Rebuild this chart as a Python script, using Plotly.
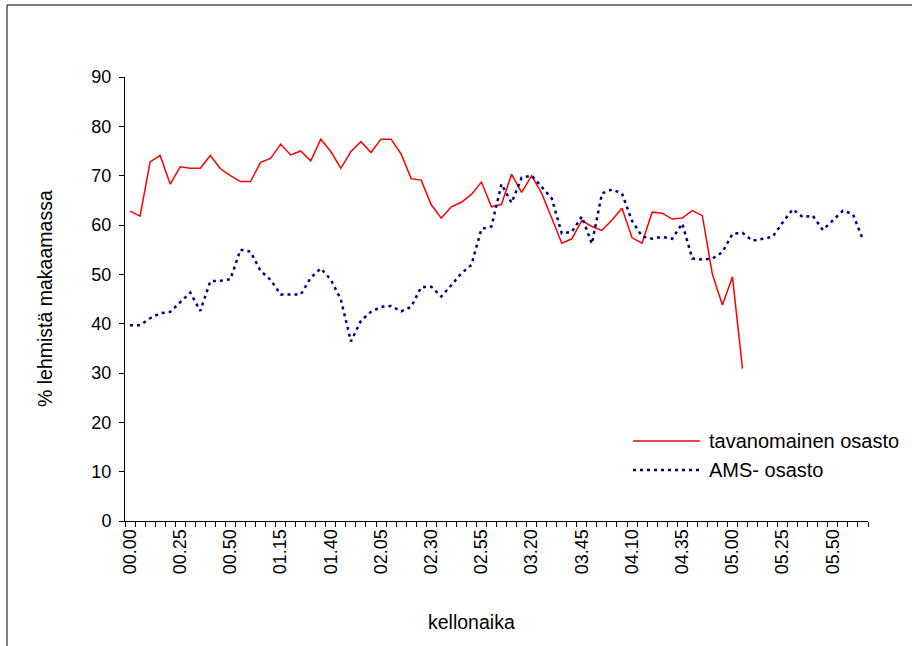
import plotly.graph_objects as go

# Time of day in 5-minute steps
times = [
    "00.00", "00.05", "00.10", "00.15", "00.20", "00.25", "00.30", "00.35", "00.40", "00.45",
    "00.50", "00.55", "01.00", "01.05", "01.10", "01.15", "01.20", "01.25", "01.30", "01.35",
    "01.40", "01.45", "01.50", "01.55", "02.00", "02.05", "02.10", "02.15", "02.20", "02.25",
    "02.30", "02.35", "02.40", "02.45", "02.50", "02.55", "03.00", "03.05", "03.10", "03.15",
    "03.20", "03.25", "03.30", "03.35", "03.40", "03.45", "03.50", "03.55", "04.00", "04.05",
    "04.10", "04.15", "04.20", "04.25", "04.30", "04.35", "04.40", "04.45", "04.50", "04.55",
    "05.00", "05.05", "05.10", "05.15", "05.20", "05.25", "05.30", "05.35", "05.40", "05.45",
    "05.50", "05.55", "06.00", "06.05",
]

# % of cows lying down, conventional barn
tavanomainen = [
    62.8, 61.8, 72.8, 74.1, 68.3, 71.8, 71.5, 71.5, 74.1, 71.4,
    70.0, 68.8, 68.8, 72.7, 73.5, 76.4, 74.2, 75.0, 73.0, 77.4,
    74.9, 71.5, 74.9, 76.9, 74.7, 77.4, 77.4, 74.4, 69.4, 69.1,
    64.1, 61.4, 63.7, 64.6, 66.2, 68.7, 63.7, 64.2, 70.3, 66.6,
    70.0, 66.4, 61.4, 56.3, 57.2, 60.9, 59.7, 58.9, 61.0, 63.4,
    57.4, 56.3, 62.6, 62.4, 61.2, 61.4, 62.9, 61.9, 50.0, 43.8,
    49.5, 30.9,
]

# % of cows lying down, AMS barn
ams = [
    39.7, 39.7, 41.1, 42.1, 42.4, 44.4, 46.3, 42.6, 48.6, 48.7,
    49.0, 55.0, 54.6, 50.7, 48.9, 45.9, 45.9, 45.9, 49.3, 51.2,
    48.9, 44.9, 36.4, 40.6, 42.4, 43.4, 43.6, 42.5, 43.4, 47.4,
    47.5, 45.5, 47.8, 50.2, 51.9, 59.2, 59.7, 68.3, 64.5, 69.6,
    70.0, 67.6, 65.4, 58.3, 58.6, 61.7, 56.2, 66.4, 67.2, 66.4,
    60.8, 57.7, 57.2, 57.6, 57.2, 60.3, 53.2, 53.0, 53.2, 54.5,
    58.2, 58.4, 56.8, 57.2, 57.6, 60.5, 63.2, 61.6, 61.9, 59.0,
    61.0, 62.9, 62.2, 57.0,
]

y_ticks = [0, 10, 20, 30, 40, 50, 60, 70, 80, 90]

FONT = "Arial, 'Liberation Sans', sans-serif"
RED = "#FF0000"
NAVY = "#000080"
DOT = "3px,4px"

# plot area in pixels
W, H = 912, 646
L, R, T, B = 125, 868, 77, 521


def px(x):
    return (x - L) / (R - L)


def py(y):
    return (B - y) / (B - T)


fig = go.Figure()
fig.add_trace(go.Scatter(
    x=times[:len(tavanomainen)], y=tavanomainen, mode="lines",
    name="tavanomainen osasto", line=dict(color=RED, width=1.5),
    showlegend=False,
))
fig.add_trace(go.Scatter(
    x=times, y=ams, mode="lines",
    name="AMS- osasto", line=dict(color=NAVY, width=2.5, dash=DOT),
    showlegend=False,
))

tick_text = [t if i % 5 == 0 else "" for i, t in enumerate(times)]

fig.update_xaxes(
    type="category", range=[-0.5, len(times) - 0.5],
    tickmode="array", tickvals=times, ticktext=tick_text,
    tickson="boundaries", ticks="outside", ticklen=5, tickcolor="black",
    tickangle=-90, showline=True, linecolor="black", linewidth=1,
    showgrid=False, zeroline=False,
    tickfont=dict(family=FONT, size=18, color="black"),
)
fig.update_yaxes(
    range=[0, 90], tickmode="array", tickvals=y_ticks,
    ticks="outside", ticklen=5, tickcolor="black",
    showline=True, linecolor="black", linewidth=1,
    showgrid=False, zeroline=False,
    tickfont=dict(family=FONT, size=18, color="black"),
    ticklabelstandoff=4,
)

shapes = [
    # chart frame
    dict(type="rect", xref="paper", yref="paper",
         x0=px(7), x1=px(W + 10), y0=py(H + 10), y1=py(5),
         line=dict(color="black", width=1), fillcolor="rgba(0,0,0,0)"),
    # legend samples
    dict(type="line", xref="paper", yref="paper",
         x0=px(633), x1=px(700), y0=py(441), y1=py(441),
         line=dict(color=RED, width=1.5)),
    dict(type="line", xref="paper", yref="paper",
         x0=px(633), x1=px(700), y0=py(470), y1=py(470),
         line=dict(color=NAVY, width=2.5, dash=DOT)),
]

legend_font = dict(family=FONT, size=20, color="black")
title_font = dict(family=FONT, size=19.5, color="black")

annotations = [
    dict(text="tavanomainen osasto", xref="paper", yref="paper",
         x=px(707), y=py(441), xanchor="left", yanchor="middle",
         showarrow=False, font=legend_font),
    dict(text="AMS- osasto", xref="paper", yref="paper",
         x=px(707), y=py(470), xanchor="left", yanchor="middle",
         showarrow=False, font=legend_font),
    dict(text="kellonaika", xref="paper", yref="paper",
         x=px(471), y=py(622), xanchor="center", yanchor="middle",
         showarrow=False, font=title_font),
    dict(text="% lehmistä makaamassa", xref="paper", yref="paper",
         x=px(45), y=py(299), xanchor="center", yanchor="middle",
         textangle=-90, showarrow=False, font=title_font),
]

fig.update_layout(
    width=W, height=H,
    margin=dict(l=L, r=W - R, t=T, b=H - B, autoexpand=False),
    paper_bgcolor="white", plot_bgcolor="white",
    shapes=shapes, annotations=annotations,
    font=dict(family=FONT, size=18, color="black"),
)

fig.write_html("out.html")
